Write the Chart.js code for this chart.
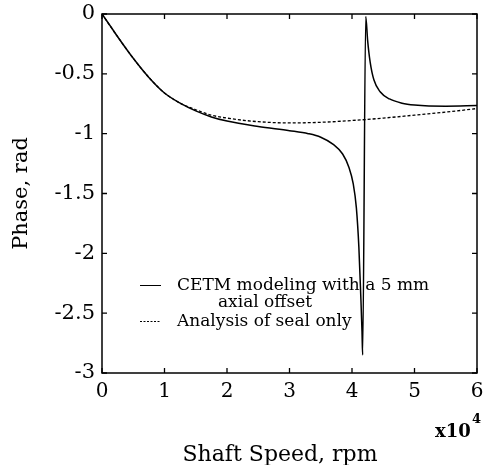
<!DOCTYPE html>
<html>
<head>
<meta charset="utf-8">
<script src="https://cdn.jsdelivr.net/npm/chart.js@4.4.1/dist/chart.umd.min.js"></script>
<style>
  html, body { margin: 0; padding: 0; background: #fff; }
  #wrap { width: 483px; height: 465px; }
</style>
</head>
<body>
<div id="wrap"><canvas id="c" width="483" height="465"></canvas></div>
<script>
// Phase of the response versus shaft speed (rpm), two models.
const speedCetm = [0, 1000, 2500, 5000, 7500, 10000, 12500, 15000, 17500, 20000, 25000, 30000,
  33000, 35000, 37000, 38500, 39500, 40200, 40700, 41100, 41400, 41600, 41700,
  42200, 42500, 42900, 43500, 44500, 46000, 48000, 50000, 55000, 60000];
const phaseCetm = [0, -0.075, -0.19, -0.37, -0.53, -0.66, -0.745, -0.81, -0.86, -0.895, -0.94, -0.975,
  -1.0, -1.03, -1.09, -1.17, -1.28, -1.42, -1.62, -1.95, -2.35, -2.65, -2.85,
  -0.02, -0.22, -0.40, -0.55, -0.65, -0.71, -0.745, -0.76, -0.77, -0.765];

const speedSeal = [0, 2500, 5000, 7500, 10000, 12500, 15000, 17500, 20000, 25000, 30000,
  35000, 40000, 45000, 50000, 55000, 60000];
const phaseSeal = [0, -0.19, -0.37, -0.53, -0.66, -0.745, -0.80, -0.845, -0.87, -0.90, -0.91,
  -0.905, -0.89, -0.87, -0.845, -0.82, -0.79];

const seriesNames = ['CETM modeling with a 5 mm', 'axial offset', 'Analysis of seal only'];

const xTickValues = [0, 10000, 20000, 30000, 40000, 50000, 60000];
const xTickLabels = ['0', '1', '2', '3', '4', '5', '6'];
const yTickValues = [-3, -2.5, -2, -1.5, -1, -0.5, 0];
const yTickLabels = ['-3', '-2.5', '-2', '-1.5', '-1', '-0.5', '0'];

const xTitle = 'Shaft Speed, rpm';
const yTitle = 'Phase, rad';
const xExponentBase = 'x10';
const xExponent = '4';

const SERIF = '"DejaVu Serif", "Liberation Serif", serif';

const toPoints = (xs, ys) => xs.map((x, i) => ({ x: x, y: ys[i] }));

// Inward ticks on all four sides, frame, exponent and legend.
const framePlugin = {
  id: 'frame',
  afterDraw(chart) {
    const { ctx, chartArea: a, scales: { x, y } } = chart;
    ctx.save();
    ctx.strokeStyle = '#000';
    ctx.lineWidth = 1.5;
    ctx.strokeRect(a.left, a.top, a.right - a.left, a.bottom - a.top);

    const len = 5;
    ctx.lineWidth = 1.3;
    ctx.beginPath();
    xTickValues.forEach(v => {
      const px = x.getPixelForValue(v);
      ctx.moveTo(px, a.bottom); ctx.lineTo(px, a.bottom - len);
      ctx.moveTo(px, a.top); ctx.lineTo(px, a.top + len);
    });
    yTickValues.forEach(v => {
      const py = y.getPixelForValue(v);
      ctx.moveTo(a.left, py); ctx.lineTo(a.left + len, py);
      ctx.moveTo(a.right, py); ctx.lineTo(a.right - len, py);
    });
    ctx.stroke();

    // x-axis title and exponent
    ctx.fillStyle = '#000';
    ctx.textBaseline = 'alphabetic';
    ctx.textAlign = 'center';
    ctx.font = '22px ' + SERIF;
    ctx.fillText(xTitle, 280, 461);

    ctx.textAlign = 'left';
    ctx.font = 'bold 18px ' + SERIF;
    ctx.fillText(xExponentBase, 435, 437);
    ctx.font = 'bold 13px ' + SERIF;
    ctx.fillText(xExponent, 472, 423);

    // legend
    const ds = chart.data.datasets;
    ctx.font = '17px ' + SERIF;
    ctx.lineWidth = 1;
    ctx.strokeStyle = ds[0].borderColor;
    ctx.setLineDash([]);
    ctx.beginPath(); ctx.moveTo(140, 285.5); ctx.lineTo(161, 285.5); ctx.stroke();
    ctx.setLineDash([2, 1.5]);
    ctx.beginPath(); ctx.moveTo(140, 321.5); ctx.lineTo(161, 321.5); ctx.stroke();
    ctx.setLineDash([]);
    ctx.textBaseline = 'middle';
    ctx.textAlign = 'left';
    ctx.fillText(seriesNames[0], 177, 286);
    ctx.textAlign = 'center';
    ctx.fillText(seriesNames[1], 265, 303);
    ctx.textAlign = 'left';
    ctx.fillText(seriesNames[2], 177, 322);
    ctx.restore();
  }
};

new Chart(document.getElementById('c'), {
  type: 'line',
  data: {
    datasets: [
      {
        label: seriesNames[0] + ' ' + seriesNames[1],
        data: toPoints(speedCetm, phaseCetm),
        borderColor: '#000',
        borderWidth: 1.5,
        pointRadius: 0,
        cubicInterpolationMode: 'monotone',
        fill: false
      },
      {
        label: seriesNames[2],
        data: toPoints(speedSeal, phaseSeal),
        borderColor: '#000',
        borderWidth: 1.3,
        borderDash: [3, 2],
        pointRadius: 0,
        cubicInterpolationMode: 'monotone',
        fill: false
      }
    ]
  },
  options: {
    responsive: false,
    animation: false,
    devicePixelRatio: 1,
    layout: { padding: { left: 0, right: 6, top: 14, bottom: 0 } },
    plugins: { legend: { display: false }, tooltip: { enabled: false } },
    scales: {
      x: {
        type: 'linear',
        min: 0,
        max: 60000,
        afterFit(s) { s.height = 92; s.paddingLeft = 0; s.paddingRight = 0; },
        afterBuildTicks(s) { s.ticks = xTickValues.map(v => ({ value: v })); },
        grid: { display: false, drawTicks: false },
        border: { display: false },
        ticks: {
          padding: 7,
          color: '#000',
          font: { family: SERIF, size: 20 },
          maxRotation: 0,
          callback: (v) => xTickLabels[xTickValues.indexOf(v)]
        }
      },
      y: {
        type: 'linear',
        min: -3,
        max: 0,
        afterFit(s) { s.width = 102; s.paddingTop = 0; s.paddingBottom = 0; },
        afterBuildTicks(s) { s.ticks = yTickValues.map(v => ({ value: v })); },
        grid: { display: false, drawTicks: false },
        border: { display: false },
        ticks: {
          padding: 7,
          color: '#000',
          font: { family: SERIF, size: 21 },
          callback: (v) => yTickLabels[yTickValues.indexOf(v)]
        },
        title: {
          display: true,
          text: yTitle,
          color: '#000',
          font: { family: SERIF, size: 21 },
          padding: { top: 9, bottom: 0 }
        }
      }
    }
  },
  plugins: [framePlugin]
});
</script>
</body>
</html>
